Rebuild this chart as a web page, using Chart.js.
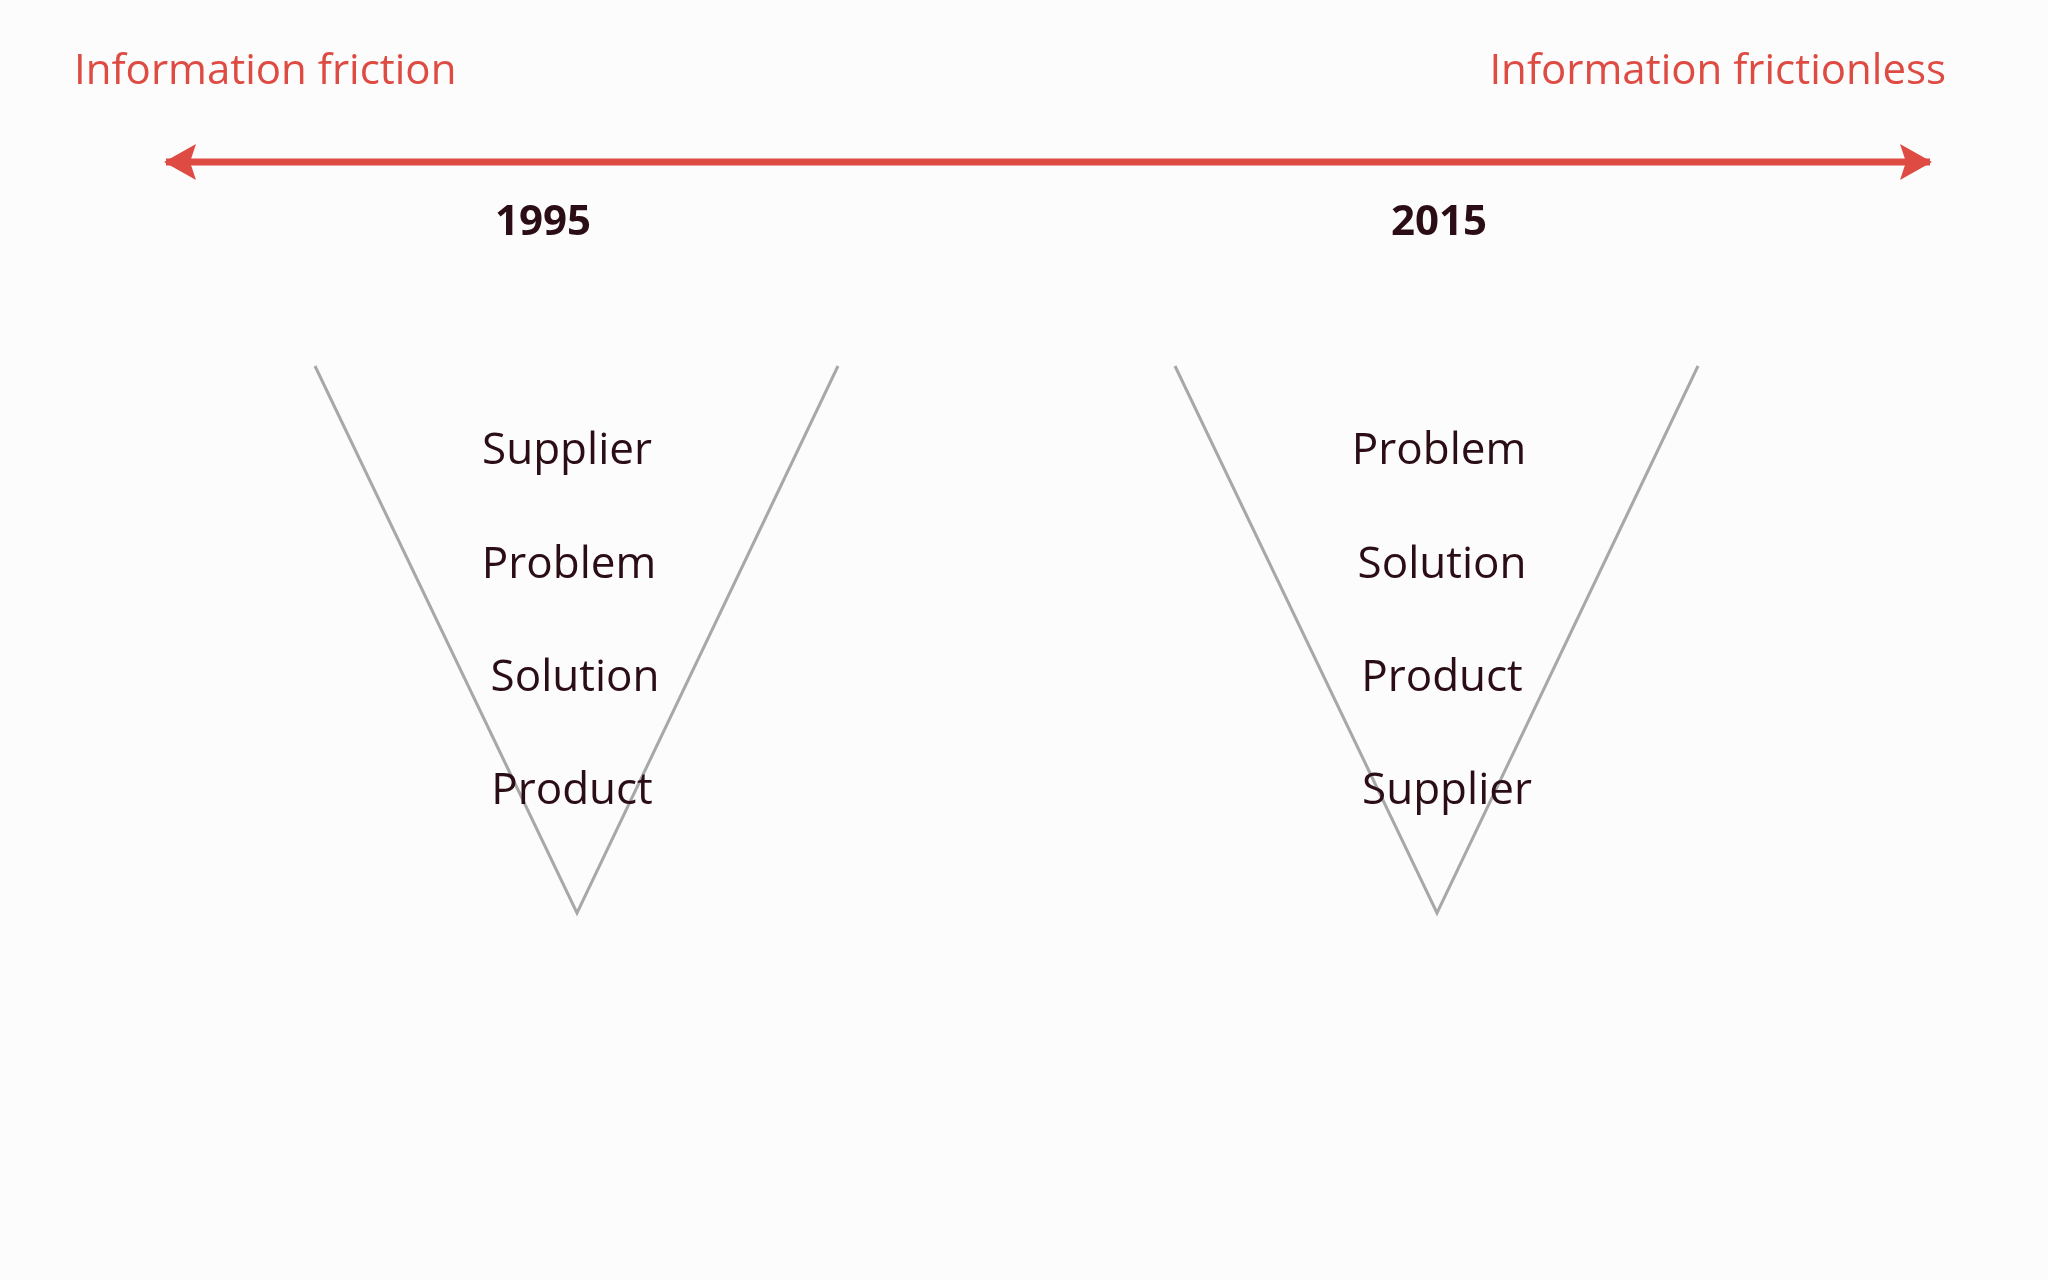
<!DOCTYPE html>
<html><head><meta charset="utf-8">
<script src="https://cdn.jsdelivr.net/npm/chart.js@4/dist/chart.umd.min.js"></script>
<style>html,body{margin:0;padding:0;background:#fdfcfc}#w{width:2048px;height:1280px}</style>
</head><body><div id="w"><canvas id="c"></canvas></div>
<script>
const titleLeft = "Information friction";
const titleRight = "Information frictionless";
const years = ["1995", "2015"];
const yearX = [543, 1439];
const leftOrder = ["Supplier", "Problem", "Solution", "Product"];
const rightOrder = ["Problem", "Solution", "Product", "Supplier"];
const leftLabelX = [567, 569, 575, 572];
const rightLabelX = [1439, 1442, 1442, 1447];
const labelY = [451, 565, 678, 791];
const funnel1995 = [{x:315,y:366},{x:577,y:913},{x:838,y:366}];
const funnel2015 = [{x:1175,y:366},{x:1437,y:913},{x:1698,y:366}];
const arrowLine = [{x:166,y:162},{x:1930,y:162}];

const red = '#dd4b43', dark = '#2b0d16';
const textPlugin = {
  id:'texts',
  afterDatasetsDraw(chart){
    const {ctx, scales:{x, y}} = chart;
    ctx.save();
    ctx.fillStyle = red;
    const a0 = arrowLine[0], a1 = arrowLine[1];
    const ay = y.getPixelForValue(a0.y);
    [[x.getPixelForValue(a0.x), -1],[x.getPixelForValue(a1.x), 1]].forEach(([px, d])=>{
      ctx.beginPath();
      ctx.moveTo(px + d*2, ay);
      ctx.lineTo(px - d*30, ay - 18);
      ctx.lineTo(px - d*24, ay);
      ctx.lineTo(px - d*30, ay + 18);
      ctx.closePath(); ctx.fill();
    });
    ctx.textBaseline = 'middle';
    ctx.font = '42px "Open Sans", sans-serif';
    ctx.fillStyle = red;
    ctx.textAlign = 'left';
    ctx.fillText(titleLeft, x.getPixelForValue(74), y.getPixelForValue(72));
    ctx.textAlign = 'right';
    ctx.fillText(titleRight, x.getPixelForValue(1946), y.getPixelForValue(72));
    ctx.textAlign = 'center';
    ctx.fillStyle = dark;
    ctx.font = 'bold 42px "Open Sans", sans-serif';
    years.forEach((t,i)=>ctx.fillText(t, x.getPixelForValue(yearX[i]), y.getPixelForValue(223)));
    ctx.font = '44px "Open Sans", sans-serif';
    leftOrder.forEach((t,i)=>ctx.fillText(t, x.getPixelForValue(leftLabelX[i]), y.getPixelForValue(labelY[i])));
    rightOrder.forEach((t,i)=>ctx.fillText(t, x.getPixelForValue(rightLabelX[i]), y.getPixelForValue(labelY[i])));
    ctx.restore();
  }
};
new Chart(document.getElementById('c'), {
  type:'scatter',
  data:{datasets:[
    {data:funnel1995, showLine:true, borderColor:'#a8a8a8', borderWidth:3, pointRadius:0, tension:0},
    {data:funnel2015, showLine:true, borderColor:'#a8a8a8', borderWidth:3, pointRadius:0, tension:0},
    {data:arrowLine, showLine:true, borderColor:red, borderWidth:7, pointRadius:0}
  ]},
  plugins:[textPlugin],
  options:{
    responsive:true, maintainAspectRatio:false, animation:false,
    layout:{padding:0},
    plugins:{legend:{display:false}, tooltip:{enabled:false}},
    scales:{
      x:{type:'linear', min:0, max:2048, display:false},
      y:{type:'linear', min:0, max:1280, reverse:true, display:false}
    }
  }
});
</script></body></html>
